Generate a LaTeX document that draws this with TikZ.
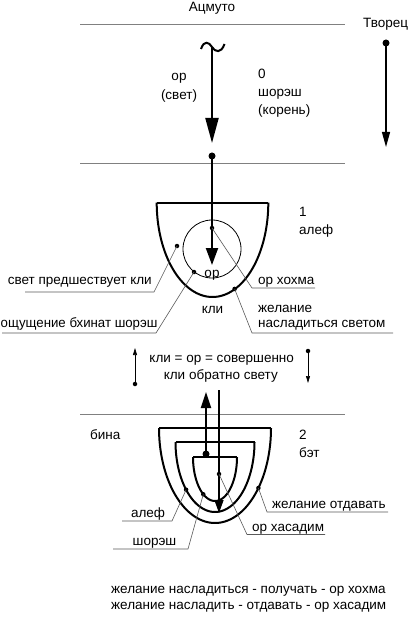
\documentclass[tikz,border=0pt]{standalone}
\usepackage{fontspec}
\setmainfont{Liberation Sans}
\usetikzlibrary{arrows.meta}
\begin{document}
\begin{tikzpicture}[x=1pt,y=-1pt,
  txt/.style={font=\fontsize{13.5}{16}\selectfont, inner sep=0pt},
  sepline/.style={draw=black!50, line width=0.8pt},
  leader/.style={draw=black!65, line width=0.6pt},
  bigdot/.style={circle, fill=black, inner sep=0pt, minimum size=7pt},
  smalldot/.style={circle, fill=black, inner sep=0pt, minimum size=4.5pt},
  vessel/.style={draw=black, line width=2pt},
  thickarr/.style={draw=black, line width=2pt},
  thinarr/.style={draw=black, line width=0.7pt}]
\useasboundingbox (0,0) rectangle (408,617);

% separating lines
\coordinate (s1a) at (80,24);  \coordinate (s1b) at (345,24);
\coordinate (s2a) at (80,163); \coordinate (s2b) at (345,163);
\coordinate (s3a) at (80,414); \coordinate (s3b) at (345,414);
\draw[sepline] (s1a) -- (s1b);
\draw[sepline] (s2a) -- (s2b);
\draw[sepline] (s3a) -- (s3b);

% headings
\node[txt, anchor=base] (acm) at (212,12) {Ацмуто};
\node[txt, anchor=base west] (tvo) at (363,28) {Творец};

% Творец arrow
\node[bigdot] (dT) at (386,43) {};
\coordinate (tT) at (386,147);
\draw[line width=1.2pt, -{Triangle[length=15pt,width=8pt]}] (dT.center) -- (tT);

% level 0
\draw[line width=2pt] (201,49) .. controls (204,40) and (209,42) .. (212,47)
  .. controls (215,52) and (221,54) .. (224.5,44);
\coordinate (tilde) at (212,47);
\coordinate (tip0) at (212,143);
\draw[thickarr, -{Triangle[length=25pt,width=13pt]}] (tilde) -- (tip0);
\node[txt, anchor=base] (or0) at (179,81) {ор};
\node[txt, anchor=base] (svet0) at (179,100) {(свет)};
\node[txt, anchor=base west] (n0) at (258,79) {0};
\node[txt, anchor=base west] (sh0) at (258,97) {шорэш};
\node[txt, anchor=base west] (kor0) at (258,115) {(корень)};

% level 1
\node[bigdot] (d1) at (212,156) {};
\draw[vessel] (156.7,202.7) -- (268.3,202.7);
\draw[vessel] plot[domain=180:360, samples=80, smooth] ({212.5+55.8*cos(\x)}, {202.7-94.3*sin(\x)});
\draw[line width=0.8pt] (212,249) circle[radius=29];
\coordinate (tip1) at (212,265);
\draw[thickarr, -{Triangle[length=17pt,width=12pt]}] (d1.center) -- (tip1);
\node[txt, anchor=base] (or1) at (212,277) {ор};
\node[txt, anchor=base] (kli1) at (212.5,313) {кли};
\node[txt, anchor=base west] (n1) at (299,217) {1};
\node[txt, anchor=base west] (alef1) at (299,234) {алеф};

\node[smalldot] (dA) at (177,246) {};
\node[smalldot] (dB) at (194,272) {};
\node[smalldot] (dC) at (212,228) {};
\node[smalldot] (dD) at (234.6,288.9) {};
\coordinate (cA) at (154,292); \coordinate (uA) at (25,292);
\coordinate (cB) at (156,333); \coordinate (uB) at (2,333);
\coordinate (cC) at (252,288); \coordinate (uC) at (315,288);
\coordinate (cD) at (252,333); \coordinate (uD) at (393,333);
\draw[leader] (dA.center) -- (cA) -- (uA);
\draw[leader] (dB.center) -- (cB) -- (uB);
\draw[leader] (dC.center) -- (cC) -- (uC);
\draw[leader] (dD.center) -- (cD) -- (uD);
\node[txt, anchor=base east] (tA) at (152,284) {свет предшествует кли};
\node[txt, anchor=base west, xscale=0.98] (tB) at (0.5,327) {ощущение бхинат шорэш};
\node[txt, anchor=base west] (tC) at (258,284.5) {ор хохма};
\node[txt, anchor=base west] (tD1) at (258,312) {желание};
\node[txt, anchor=base west] (tD2) at (258,327.5) {насладиться светом};

% middle statement
\node[smalldot] (dL) at (135,384) {};
\coordinate (tL) at (135,348);
\draw[thinarr, -{Triangle[length=7pt,width=4pt]}] (dL.center) -- (tL);
\node[smalldot] (dR) at (308,351) {};
\coordinate (tR) at (308,383);
\draw[thinarr, -{Triangle[length=7pt,width=4pt]}] (dR.center) -- (tR);
\node[txt, anchor=base] (eq1) at (221.7,362.7) {кли = ор = совершенно};
\node[txt, anchor=base] (eq2) at (220.8,379) {кли обратно свету};

% level 2
\node[txt, anchor=base west] (bina) at (90,439) {бина};
\node[txt, anchor=base west] (n2) at (299,439) {2};
\node[txt, anchor=base west] (bet) at (299,457) {бэт};

\draw[vessel] (159,428) -- (271,428);
\draw[vessel] plot[domain=180:360, samples=80, smooth] ({215+56*cos(\x)}, {428-95*sin(\x)});
\draw[vessel] (175.5,442) -- (254.5,442);
\draw[vessel] plot[domain=180:360, samples=80, smooth] ({215+39.5*cos(\x)}, {442-70*sin(\x)});
\draw[vessel] (193,457) -- (237,457);
\draw[vessel] plot[domain=180:360, samples=80, smooth] ({215+22*cos(\x)}, {457-44*sin(\x)});

\coordinate (lt) at (219,390);
\coordinate (tip2) at (219,513);
\draw[line width=1.3pt, -{Triangle[length=13pt,width=9pt]}] (lt) -- (tip2);

\node[bigdot] (d2) at (206,454) {};
\coordinate (tipU) at (206,392);
\draw[thickarr, -{Triangle[length=16pt,width=10pt]}] (d2.center) -- (tipU);

\node[smalldot] (dE) at (186.1,489.7) {};
\node[smalldot] (dF) at (203.3,494.3) {};
\node[smalldot] (dG) at (219,474) {};
\node[smalldot] (dH) at (258.4,488) {};
\coordinate (cE) at (172,521); \coordinate (uE) at (122,521);
\coordinate (cF) at (188,549); \coordinate (uF) at (113,549);
\coordinate (cG) at (247,534.5); \coordinate (uG) at (325,534.5);
\coordinate (cH) at (267,512); \coordinate (uH) at (388,512);
\draw[leader] (dE.center) -- (cE) -- (uE);
\draw[leader] (dF.center) -- (cF) -- (uF);
\draw[leader] (dG.center) -- (cG) -- (uG);
\draw[leader] (dH.center) -- (cH) -- (uH);
\node[txt, anchor=base] (tE) at (148,517) {алеф};
\node[txt, anchor=base] (tF) at (154.5,545) {шорэш};
\node[txt, anchor=base west] (tG) at (252,531.5) {ор хасадим};
\node[txt, anchor=base west] (tH) at (272,508.5) {желание отдавать};

% bottom text
\node[txt, anchor=base west] (b1) at (111,593) {желание насладиться - получать - ор хохма};
\node[txt, anchor=base west] (b2) at (111,609) {желание насладить - отдавать - ор хасадим};
\end{tikzpicture}
\end{document}
